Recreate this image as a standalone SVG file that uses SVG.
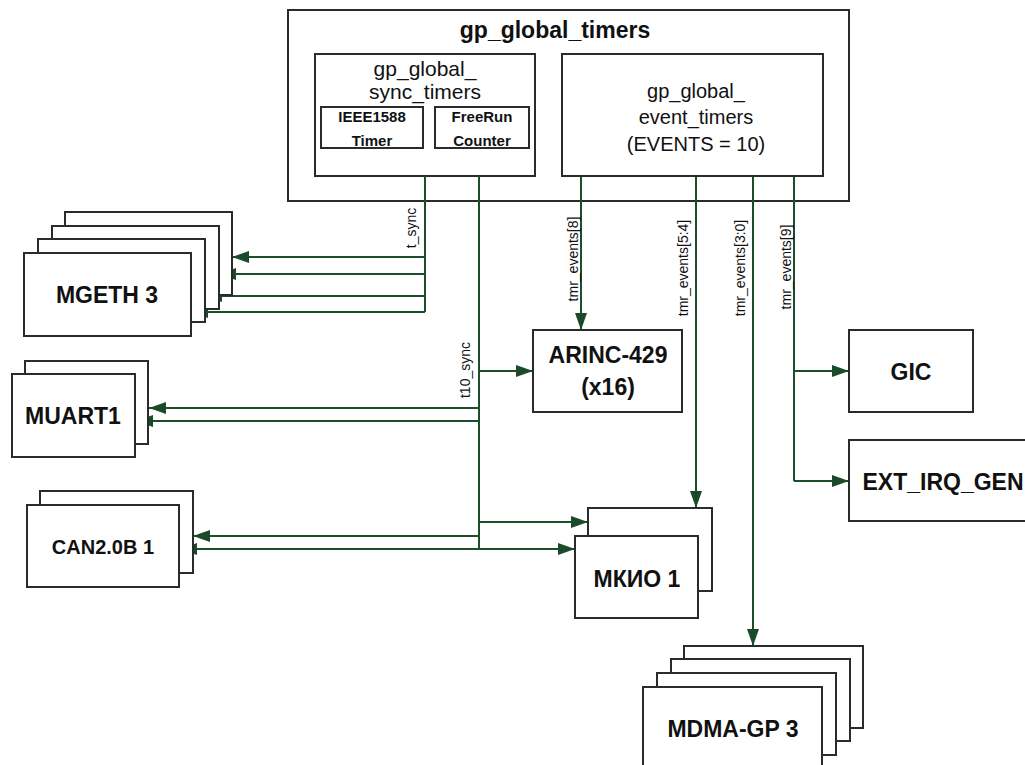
<svg xmlns="http://www.w3.org/2000/svg" width="1025" height="765" viewBox="0 0 1025 765">
<style>
.box{fill:#fff;stroke:#2b2b2b;stroke-width:2}
.ln{fill:none;stroke:#1e4d2b;stroke-width:2}
.arr{marker-end:url(#ah)}
.bi{marker-start:url(#ahs);marker-end:url(#ah)}
.t{font-family:"Liberation Sans",Arial,sans-serif;fill:#111;text-anchor:middle}
.b23{font-size:23px;font-weight:bold}
.b20{font-size:20px;font-weight:bold}
.b15{font-size:15px;font-weight:bold}
.r21{font-size:21px}
.r20{font-size:20px}
.lab{font-family:"Liberation Sans",Arial,sans-serif;font-size:14px;fill:#111;text-anchor:middle}
</style>
<defs>
<marker id="ah" viewBox="0 0 17 12" refX="17" refY="6" markerWidth="17" markerHeight="12" markerUnits="userSpaceOnUse" orient="auto"><path d="M0,0 L17,6 L0,12 z" fill="#1a4a2a"/></marker>
<marker id="ahs" viewBox="0 0 17 12" refX="17" refY="6" markerWidth="17" markerHeight="12" markerUnits="userSpaceOnUse" orient="auto-start-reverse"><path d="M0,0 L17,6 L0,12 z" fill="#1a4a2a"/></marker>
</defs>

<g id="gp_global_timers">
<rect class="box" x="288" y="10" width="561" height="191"/>
<text class="t b23" x="555" y="38">gp_global_timers</text>
</g>
<g id="gp_global_sync_timers">
<rect class="box" x="315" y="54" width="220" height="122"/>
<text class="t r21" x="425" y="76">gp_global_</text>
<text class="t r21" x="425" y="99">sync_timers</text>
</g>
<g id="ieee1588_timer">
<rect class="box" x="321" y="107" width="102" height="41"/>
<text class="t b15" x="372" y="122">IEEE1588</text>
<text class="t b15" x="372" y="146">Timer</text>
</g>
<g id="freerun_counter">
<rect class="box" x="435" y="107" width="94" height="41"/>
<text class="t b15" x="482" y="122">FreeRun</text>
<text class="t b15" x="482" y="146">Counter</text>
</g>
<g id="gp_global_event_timers">
<rect class="box" x="562" y="54" width="261" height="122"/>
<text class="t r20" x="696" y="98">gp_global_</text>
<text class="t r20" x="696" y="124">event_timers</text>
<text class="t r20" x="696" y="151">(EVENTS = 10)</text>
</g>

<g id="connectors">
<path class="ln" d="M425,176 V312"/>
<path class="ln arr" d="M425,257 H232"/>
<path class="ln arr" d="M425,274 H219"/>
<path class="ln arr" d="M425,296 H205"/>
<path class="ln arr" d="M425,312 H191"/>
<path class="ln" d="M479,176 V549"/>
<path class="ln arr" d="M479,371 H533"/>
<path class="ln arr" d="M479,408 H149"/>
<path class="ln arr" d="M479,421 H136"/>
<path class="ln arr" d="M479,536 H193"/>
<path class="ln bi" d="M180,549 H575"/>
<path class="ln arr" d="M479,522 H588"/>
<path class="ln arr" d="M581,177 V330"/>
<path class="ln arr" d="M696,177 V508"/>
<path class="ln arr" d="M753,177 V646"/>
<path class="ln" d="M794,177 V481"/>
<path class="ln arr" d="M794,371 H849"/>
<path class="ln arr" d="M794,481 H849"/>
<text class="lab" transform="translate(416,228) rotate(-90)">t_sync</text>
<text class="lab" transform="translate(470,370) rotate(-90)">t10_sync</text>
<text class="lab" transform="translate(578,259) rotate(-90)">tmr_events[8]</text>
<text class="lab" transform="translate(688,268) rotate(-90)">tmr_events[5:4]</text>
<text class="lab" transform="translate(745,268) rotate(-90)">tmr_events[3:0]</text>
<text class="lab" transform="translate(791,267) rotate(-90)">tmr_events[9]</text>
</g>

<g id="mgeth3">
<rect class="box" x="65" y="212" width="167" height="83"/>
<rect class="box" x="52" y="226" width="167" height="83"/>
<rect class="box" x="38" y="239" width="167" height="83"/>
<rect class="box" x="24" y="253" width="167" height="83"/>
<text class="t b23" x="107" y="303">MGETH 3</text>
</g>
<g id="muart1">
<rect class="box" x="25" y="361" width="123" height="83"/>
<rect class="box" x="12" y="374" width="123" height="83"/>
<text class="t b23" x="73" y="424">MUART1</text>
</g>
<g id="can20b1">
<rect class="box" x="40" y="491" width="153" height="82"/>
<rect class="box" x="27" y="505" width="152" height="82"/>
<text class="t b20" x="103" y="554">CAN2.0B 1</text>
</g>
<g id="arinc429">
<rect class="box" x="533" y="330" width="149" height="82"/>
<text class="t b23" x="608" y="363">ARINC-429</text>
<text class="t b23" x="608" y="395">(x16)</text>
</g>
<g id="mkio1">
<rect class="box" x="588" y="508" width="124" height="83"/>
<rect class="box" x="575" y="536" width="123" height="82"/>
<text class="t b23" x="637" y="587">МКИО 1</text>
</g>
<g id="gic">
<rect class="box" x="849" y="330" width="124" height="82"/>
<text class="t b23" x="911" y="380">GIC</text>
</g>
<g id="ext_irq_gen">
<rect class="box" x="849" y="440" width="190" height="81"/>
<text class="t b23" x="943" y="490">EXT_IRQ_GEN</text>
</g>
<g id="mdma_gp3">
<rect class="box" x="684" y="646" width="179" height="82"/>
<rect class="box" x="671" y="659" width="179" height="82"/>
<rect class="box" x="657" y="673" width="179" height="82"/>
<rect class="box" x="643" y="687" width="179" height="83"/>
<text class="t b23" x="733" y="737">MDMA-GP 3</text>
</g>
</svg>
